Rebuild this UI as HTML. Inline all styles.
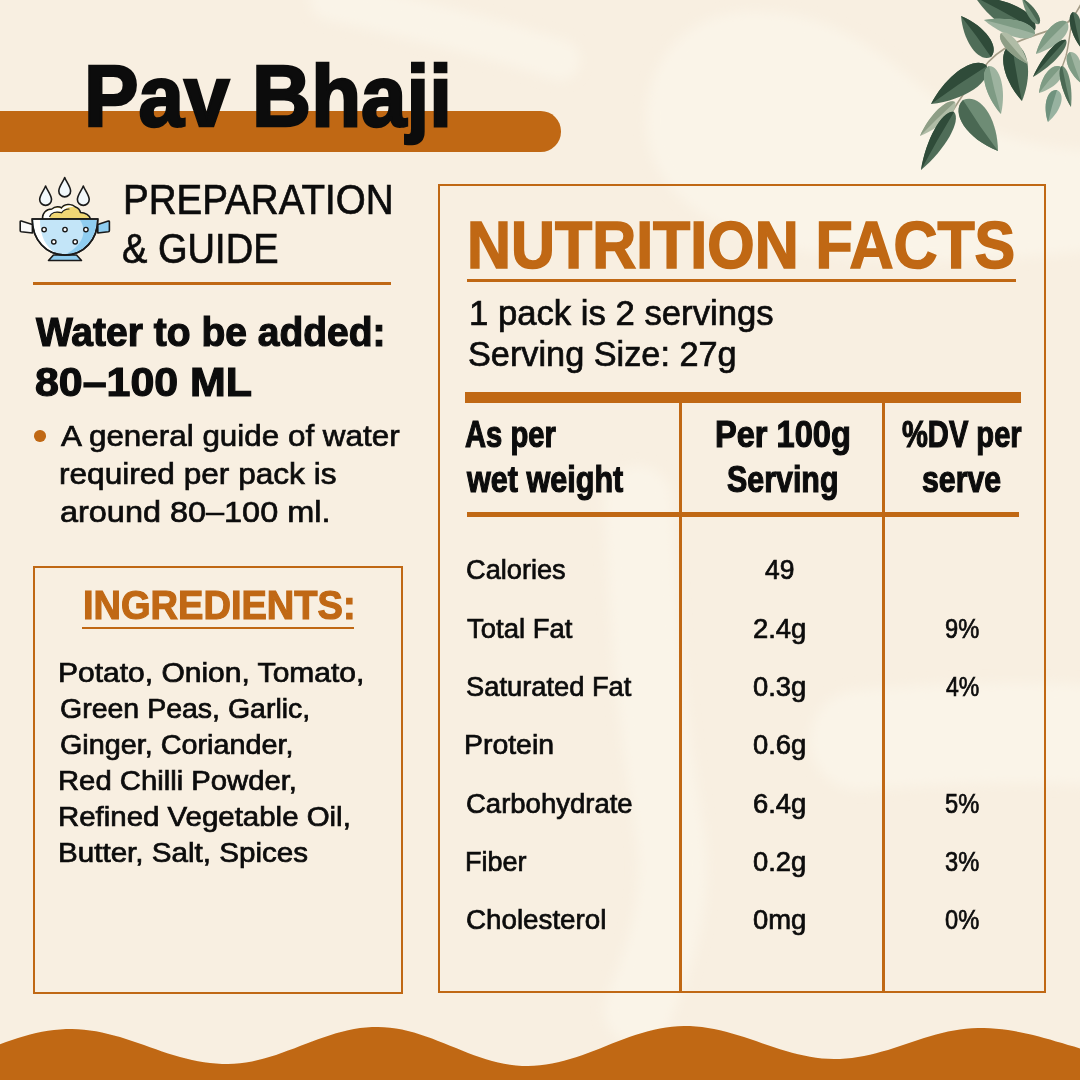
<!DOCTYPE html>
<html>
<head>
<meta charset="utf-8">
<style>
html,body{margin:0;padding:0;}
body{width:1080px;height:1080px;position:relative;overflow:hidden;background:#F8EFE1;font-family:"Liberation Sans",sans-serif;color:#0C0C0C;}
.t{position:absolute;white-space:nowrap;line-height:1;transform-origin:0 0;}
.r{position:absolute;background:#C06814;}
svg{position:absolute;left:0;top:0;}
</style>
</head>
<body>
<svg width="1080" height="1080" viewBox="0 0 1080 1080">
<defs><filter id="bl" x="-20%" y="-20%" width="140%" height="140%"><feGaussianBlur stdDeviation="6"/></filter></defs>
<g filter="url(#bl)" fill="none" stroke-linecap="round">
<path d="M648 140 C638 70 680 15 745 12 C800 10 840 25 885 58 C925 88 955 118 995 132 C1035 146 1065 150 1095 150 L1095 250 C1000 260 900 270 800 250 C720 235 660 200 648 140 Z" fill="#FAF4E8" stroke="none"/>
<path d="M638 500 C643 600 648 700 668 820 C683 900 658 960 638 1010" stroke="#FAF4E8" stroke-width="68"/>
<path d="M860 740 C920 735 1000 730 1090 735" stroke="#FAF4E8" stroke-width="100"/>
<path d="M330 0 C420 20 500 40 560 60" stroke="#FAF4E8" stroke-width="40"/>
</g>
</svg>

<div class="r" style="left:0;top:111px;width:561px;height:40.5px;border-radius:0 20.25px 20.25px 0;"></div>
<div class="r" style="left:33px;top:282px;width:358px;height:3px;"></div>
<div class="t" style="left:33px;top:566px;width:370px;height:428px;border:2px solid #C06814;box-sizing:border-box;"></div>
<div class="r" style="left:82px;top:626.5px;width:272px;height:2.5px;"></div>
<div class="t" style="left:438px;top:184px;width:608px;height:809px;border:2px solid #C06814;box-sizing:border-box;"></div>
<div class="r" style="left:467px;top:279px;width:549px;height:3px;"></div>
<div class="r" style="left:465px;top:392px;width:556px;height:11px;"></div>
<div class="r" style="left:679px;top:403px;width:3px;height:590px;"></div>
<div class="r" style="left:882px;top:403px;width:3px;height:590px;"></div>
<div class="r" style="left:467px;top:512px;width:552px;height:5px;"></div>
<div class="r" style="left:34.2px;top:430px;width:11.5px;height:11.5px;border-radius:50%;"></div>
<svg width="1080" height="1080" viewBox="0 0 1080 1080">
<g stroke="#1A1A1A" stroke-width="1.6" stroke-linejoin="round" stroke-linecap="round">
<path d="M45.6 186 C47 190 51.5 195 51.5 199.5 A5.9 5.9 0 0 1 39.7 199.5 C39.7 195 44.2 190 45.6 186 Z" fill="#F2F8FB"/>
<path d="M64.7 177.5 C66.1 181.5 70.6 186.5 70.6 191 A5.9 5.9 0 0 1 58.8 191 C58.8 186.5 63.3 181.5 64.7 177.5 Z" fill="#F2F8FB"/>
<path d="M83.3 186 C84.7 190 89.2 195 89.2 199.5 A5.9 5.9 0 0 1 77.4 199.5 C77.4 195 81.9 190 83.3 186 Z" fill="#F2F8FB"/>
<path d="M42.6 219 C42 213.5 46 209 52 209 C55 206 60 206.5 61.5 208 C63.5 204 71.5 203 75.5 207 C78.5 208 80 210.5 80.5 212.5 C85 212.5 90 215.5 90.5 219 Z" fill="#F1D774"/>
<path d="M32.4 224.5 L21.3 221 C20.6 220.8 20.2 221.3 20.2 222 L20.2 230.5 C20.2 231.2 20.6 231.7 21.3 231.8 L32.4 233 Z" fill="#FAFAFA"/>
<path d="M97.8 224.5 L108.3 221 C109 220.8 109.4 221.3 109.4 222 L109.4 230.5 C109.4 231.2 109 231.7 108.3 231.8 L97.8 233 Z" fill="#8FCDF0"/>
<path d="M53.5 255 L76.5 255 L81.5 260.5 L48.5 260.5 Z" fill="#8FCDF0"/>
<path d="M32.2 219 L97.8 219 C97.8 240 83.5 255 65 255 C46.5 255 32.2 240 32.2 219 Z" fill="#C3E5F8"/>
</g>
<path d="M80 220 L96.5 220 C96.5 238 84 253.5 66 254 C82 246 88 232 80 220 Z" fill="#8FCDF0"/>
<path d="M33.5 220 L40 220 C40 236 46 247 55 252.5 C42 249 33.5 236 33.5 220 Z" fill="#FFFFFF"/>
<path d="M43.6 218.2 C43.3 214 46.5 210 52 210 C55 207.3 60 207.6 61.6 209.2 C64 205.3 70.5 204.5 74 207.2 C69 206.5 64.5 208.5 62 212 C57 210.5 51 212.5 49.5 218.2 Z" fill="#FFFFFF"/>
<path d="M49.7 216.5 C51 212.5 56 211 61.5 212.8 C63.5 210 66 209 69 209" fill="none" stroke="#1A1A1A" stroke-width="1.2" stroke-linecap="round"/>
<path d="M32.2 219 L97.8 219 C97.8 240 83.5 255 65 255 C46.5 255 32.2 240 32.2 219 Z" fill="none" stroke="#1A1A1A" stroke-width="1.6"/>
<g fill="#FFFFFF" stroke="#1A1A1A" stroke-width="1.4">
<circle cx="44.1" cy="229.6" r="2.2"/><circle cx="65" cy="229.6" r="2.2"/><circle cx="85.9" cy="229.6" r="2.2"/>
<circle cx="53.8" cy="241.8" r="2.2"/><circle cx="75.2" cy="241.8" r="2.2"/>
</g>
</svg>

<svg width="1080" height="1080" viewBox="0 0 1080 1080">
<g>
<path d="M1081 4 C1075 16 1068 24 1060 27 C1045 32 1030 36 1015 43 C1000 50 990 58 982 70 C972 82 962 95 952 112" stroke="#A49C86" stroke-width="1.6" fill="none"/>
<path d="M1073 16 C1070 30 1069 45 1066 56 C1064 62 1062 68 1060 72" stroke="#A49C86" stroke-width="1.4" fill="none"/>
<path d="M1035.0 30.0 C1039.5 14.7 1009.8 -2.4 975.0 -3.0 C994.2 26.1 1024.5 42.0 1035.0 30.0 Z" fill="#4F6D58"/><path d="M1035.0 30.0 C1039.5 14.7 1009.8 -2.4 975.0 -3.0 Q1005.6 12.4 1035.0 30.0 Z" fill="#2F4B39"/>
<path d="M1035.0 34.0 C1035.3 22.9 1009.9 15.5 984.0 20.0 C1004.0 37.1 1029.6 43.7 1035.0 34.0 Z" fill="#9DB39F"/><path d="M1035.0 34.0 C1035.3 22.9 1009.9 15.5 984.0 20.0 Q1009.7 26.1 1035.0 34.0 Z" fill="#7E9B84"/>
<path d="M1039.0 24.0 C1043.2 19.4 1034.9 6.3 1022.0 -2.0 C1024.4 13.1 1033.1 26.0 1039.0 24.0 Z" fill="#6E8C75"/><path d="M1039.0 24.0 C1043.2 19.4 1034.9 6.3 1022.0 -2.0 Q1030.9 10.7 1039.0 24.0 Z" fill="#4A6853"/>
<path d="M991.0 57.0 C1000.2 47.2 985.6 26.3 961.0 16.0 C963.4 42.6 978.8 62.7 991.0 57.0 Z" fill="#4F6D58"/><path d="M991.0 57.0 C1000.2 47.2 985.6 26.3 961.0 16.0 Q976.9 35.9 991.0 57.0 Z" fill="#2F4B39"/>
<path d="M1012.0 44.0 C997.1 49.5 1001.5 78.2 1022.0 101.0 C1033.5 72.5 1027.9 44.2 1012.0 44.0 Z" fill="#4F6D58"/><path d="M1012.0 44.0 C997.1 49.5 1001.5 78.2 1022.0 101.0 Q1015.7 72.7 1012.0 44.0 Z" fill="#2F4B39"/>
<path d="M1001.0 33.0 C996.0 40.1 1009.3 55.8 1028.0 64.0 C1022.4 44.3 1008.7 29.0 1001.0 33.0 Z" fill="#B0BCA6"/><path d="M1001.0 33.0 C996.0 40.1 1009.3 55.8 1028.0 64.0 Q1014.0 49.0 1001.0 33.0 Z" fill="#8E9E86"/>
<path d="M987.0 66.0 C975.4 55.0 947.1 73.5 931.0 104.0 C965.3 100.3 993.0 80.8 987.0 66.0 Z" fill="#4F6D58"/><path d="M987.0 66.0 C975.4 55.0 947.1 73.5 931.0 104.0 Q958.3 83.9 987.0 66.0 Z" fill="#2F4B39"/>
<path d="M989.0 66.0 C979.1 71.0 984.7 95.1 1001.0 114.0 C1006.5 89.7 1000.1 65.8 989.0 66.0 Z" fill="#9DB39F"/><path d="M989.0 66.0 C979.1 71.0 984.7 95.1 1001.0 114.0 Q994.1 90.2 989.0 66.0 Z" fill="#7E9B84"/>
<path d="M955.0 102.0 C947.4 97.7 929.7 114.4 920.0 136.0 C941.8 127.0 959.1 109.7 955.0 102.0 Z" fill="#B0BCA6"/><path d="M955.0 102.0 C947.4 97.7 929.7 114.4 920.0 136.0 Q937.0 118.5 955.0 102.0 Z" fill="#8E9E86"/>
<path d="M954.0 112.0 C943.0 109.6 926.1 138.3 921.0 170.0 C945.6 149.5 961.7 120.2 954.0 112.0 Z" fill="#4F6D58"/><path d="M954.0 112.0 C943.0 109.6 926.1 138.3 921.0 170.0 Q936.7 140.6 954.0 112.0 Z" fill="#2F4B39"/>
<path d="M963.0 100.0 C949.9 112.7 966.8 138.7 998.0 151.0 C997.7 117.4 979.6 92.4 963.0 100.0 Z" fill="#6E8C75"/><path d="M963.0 100.0 C949.9 112.7 966.8 138.7 998.0 151.0 Q979.3 126.3 963.0 100.0 Z" fill="#4A6853"/>
<path d="M1067.0 22.0 C1057.7 16.1 1041.9 31.8 1036.0 54.0 C1058.0 47.4 1073.2 31.1 1067.0 22.0 Z" fill="#9DB39F"/><path d="M1067.0 22.0 C1057.7 16.1 1041.9 31.8 1036.0 54.0 Q1050.9 37.4 1067.0 22.0 Z" fill="#7E9B84"/>
<path d="M1066.0 40.0 C1059.0 37.1 1042.3 55.4 1033.0 77.0 C1053.4 65.3 1069.7 46.6 1066.0 40.0 Z" fill="#4F6D58"/><path d="M1066.0 40.0 C1059.0 37.1 1042.3 55.4 1033.0 77.0 Q1049.1 58.1 1066.0 40.0 Z" fill="#2F4B39"/>
<path d="M1061.0 67.0 C1052.6 62.1 1041.3 74.8 1039.0 93.0 C1056.5 87.8 1067.2 74.5 1061.0 67.0 Z" fill="#9DB39F"/><path d="M1061.0 67.0 C1052.6 62.1 1041.3 74.8 1039.0 93.0 Q1049.4 79.5 1061.0 67.0 Z" fill="#7E9B84"/>
<path d="M1057.0 90.0 C1047.3 89.0 1042.4 104.9 1048.0 122.0 C1061.7 110.3 1065.8 94.2 1057.0 90.0 Z" fill="#97B2A0"/><path d="M1057.0 90.0 C1047.3 89.0 1042.4 104.9 1048.0 122.0 Q1051.7 105.8 1057.0 90.0 Z" fill="#6F927E"/>
<path d="M1062.0 66.0 C1056.6 69.3 1060.8 89.9 1071.0 107.0 C1073.1 87.2 1068.3 66.8 1062.0 66.0 Z" fill="#6E8C75"/><path d="M1062.0 66.0 C1056.6 69.3 1060.8 89.9 1071.0 107.0 Q1066.0 86.6 1062.0 66.0 Z" fill="#4A6853"/>
<path d="M1073.0 12.0 C1066.4 15.4 1070.1 33.4 1081.0 48.0 C1084.7 30.2 1080.4 12.2 1073.0 12.0 Z" fill="#4F6D58"/><path d="M1073.0 12.0 C1066.4 15.4 1070.1 33.4 1081.0 48.0 Q1076.4 30.1 1073.0 12.0 Z" fill="#2F4B39"/>
<path d="M1070.0 52.0 C1062.6 56.4 1067.8 72.0 1081.0 83.0 C1084.3 66.1 1078.5 50.7 1070.0 52.0 Z" fill="#9DB39F"/><path d="M1070.0 52.0 C1062.6 56.4 1067.8 72.0 1081.0 83.0 Q1074.8 67.7 1070.0 52.0 Z" fill="#7E9B84"/>
</g>

<path d="M0 1080 L0 1044.2 L6 1042.1 L12 1040.0 L18 1038.1 L24 1036.2 L30 1034.6 L36 1033.1 L42 1031.8 L48 1030.8 L54 1029.9 L60 1029.4 L66 1029.1 L72 1029.0 L78 1029.2 L84 1029.7 L90 1030.4 L96 1031.3 L102 1032.5 L108 1033.9 L114 1035.4 L120 1037.1 L126 1039.0 L132 1041.0 L138 1043.0 L144 1045.1 L150 1047.2 L156 1049.3 L162 1051.4 L168 1053.4 L174 1055.2 L180 1057.0 L186 1058.6 L192 1060.1 L198 1061.3 L204 1062.3 L210 1063.1 L216 1063.6 L222 1063.9 L228 1064.0 L234 1063.7 L240 1063.2 L246 1062.4 L252 1061.4 L258 1060.0 L264 1058.5 L270 1056.8 L276 1054.9 L282 1052.8 L288 1050.6 L294 1048.4 L300 1046.1 L306 1043.8 L312 1041.5 L318 1039.3 L324 1037.2 L330 1035.2 L336 1033.3 L342 1031.7 L348 1030.3 L354 1029.1 L360 1028.1 L366 1027.5 L372 1027.1 L378 1027.0 L384 1027.2 L390 1027.7 L396 1028.5 L402 1029.6 L408 1031.0 L414 1032.6 L420 1034.4 L426 1036.4 L432 1038.6 L438 1040.9 L444 1043.2 L450 1045.7 L456 1048.1 L462 1050.6 L468 1052.9 L474 1055.2 L480 1057.3 L486 1059.2 L492 1061.0 L498 1062.5 L504 1063.8 L510 1064.8 L516 1065.5 L522 1065.9 L528 1066.0 L534 1065.8 L540 1065.3 L546 1064.6 L552 1063.6 L558 1062.3 L564 1060.8 L570 1059.1 L576 1057.2 L582 1055.2 L588 1053.0 L594 1050.7 L600 1048.4 L606 1046.0 L612 1043.6 L618 1041.3 L624 1039.0 L630 1036.8 L636 1034.8 L642 1032.9 L648 1031.2 L654 1029.7 L660 1028.4 L666 1027.4 L672 1026.7 L678 1026.2 L684 1026.0 L690 1026.1 L696 1026.4 L702 1027.0 L708 1027.9 L714 1029.0 L720 1030.2 L726 1031.7 L732 1033.4 L738 1035.2 L744 1037.1 L750 1039.1 L756 1041.1 L762 1043.2 L768 1045.3 L774 1047.3 L780 1049.2 L786 1051.0 L792 1052.7 L798 1054.3 L804 1055.6 L810 1056.8 L816 1057.7 L822 1058.4 L828 1058.8 L834 1059.0 L840 1058.9 L846 1058.6 L852 1058.0 L858 1057.1 L864 1056.0 L870 1054.8 L876 1053.3 L882 1051.6 L888 1049.9 L894 1048.0 L900 1046.0 L906 1044.0 L912 1042.0 L918 1040.0 L924 1038.1 L930 1036.2 L936 1034.5 L942 1033.0 L948 1031.6 L954 1030.4 L960 1029.4 L966 1028.7 L972 1028.2 L978 1028.0 L984 1028.0 L990 1028.3 L996 1028.7 L1002 1029.3 L1008 1030.1 L1014 1031.1 L1020 1032.2 L1026 1033.4 L1032 1034.8 L1038 1036.3 L1044 1037.9 L1050 1039.6 L1056 1041.4 L1062 1043.1 L1068 1044.9 L1074 1046.6 L1080 1048.4 L1080 1080 Z" fill="#C06814"/>
</svg>
<div class="t" style="left:83.50px;top:52.70px;font-size:86.34px;font-weight:bold;transform:scaleX(0.9467);-webkit-text-stroke:2.60px #0C0C0C;">Pav Bhaji</div>
<div class="t" style="left:122.60px;top:177.65px;font-size:42.59px;transform:scaleX(0.9053);-webkit-text-stroke:0.70px #0C0C0C;">PREPARATION</div>
<div class="t" style="left:122.42px;top:227.15px;font-size:42.59px;transform:scaleX(0.8940);-webkit-text-stroke:0.70px #0C0C0C;">&amp; GUIDE</div>
<div class="t" style="left:36.27px;top:311.70px;font-size:40.84px;font-weight:bold;transform:scaleX(0.9553);-webkit-text-stroke:1.20px #0C0C0C;">Water to be added:</div>
<div class="t" style="left:35.28px;top:362.20px;font-size:40.84px;font-weight:bold;transform:scaleX(1.0511);-webkit-text-stroke:1.20px #0C0C0C;">80–100 ML</div>
<div class="t" style="left:61.36px;top:421.25px;font-size:30.23px;transform:scaleX(1.0389);-webkit-text-stroke:0.70px #0C0C0C;">A general guide of water</div>
<div class="t" style="left:59.27px;top:458.95px;font-size:30.23px;transform:scaleX(1.0455);-webkit-text-stroke:0.70px #0C0C0C;">required per pack is</div>
<div class="t" style="left:60.30px;top:497.05px;font-size:30.23px;transform:scaleX(1.0730);-webkit-text-stroke:0.70px #0C0C0C;">around 80–100 ml.</div>
<div class="t" style="left:82.68px;top:585.40px;font-size:40.41px;font-weight:bold;color:#C06814;transform:scaleX(0.9413);-webkit-text-stroke:1.20px #C06814;">INGREDIENTS:</div>
<div class="t" style="left:58.36px;top:660.05px;font-size:26.89px;transform:scaleX(1.1165);-webkit-text-stroke:0.70px #0C0C0C;">Potato, Onion, Tomato,</div>
<div class="t" style="left:59.51px;top:696.00px;font-size:26.89px;transform:scaleX(1.0605);-webkit-text-stroke:0.70px #0C0C0C;">Green Peas, Garlic,</div>
<div class="t" style="left:59.50px;top:731.95px;font-size:26.89px;transform:scaleX(1.0701);-webkit-text-stroke:0.70px #0C0C0C;">Ginger, Coriander,</div>
<div class="t" style="left:58.40px;top:767.90px;font-size:26.89px;transform:scaleX(1.0880);-webkit-text-stroke:0.70px #0C0C0C;">Red Chilli Powder,</div>
<div class="t" style="left:58.39px;top:803.85px;font-size:26.89px;transform:scaleX(1.0949);-webkit-text-stroke:0.70px #0C0C0C;">Refined Vegetable Oil,</div>
<div class="t" style="left:58.38px;top:839.80px;font-size:26.89px;transform:scaleX(1.1011);-webkit-text-stroke:0.70px #0C0C0C;">Butter, Salt, Spices</div>
<div class="t" style="left:467.05px;top:211.50px;font-size:65.99px;font-weight:bold;color:#C06814;transform:scaleX(0.9232);-webkit-text-stroke:1.60px #C06814;">NUTRITION FACTS</div>
<div class="t" style="left:469.34px;top:296.25px;font-size:34.59px;transform:scaleX(1.0031);-webkit-text-stroke:0.70px #0C0C0C;">1 pack is 2 servings</div>
<div class="t" style="left:468.46px;top:337.15px;font-size:34.59px;transform:scaleX(0.9911);-webkit-text-stroke:0.70px #0C0C0C;">Serving Size: 27g</div>
<div class="t" style="left:465.46px;top:415.90px;font-size:37.79px;font-weight:bold;transform:scaleX(0.7726);-webkit-text-stroke:1.20px #0C0C0C;">As per</div>
<div class="t" style="left:467.09px;top:460.90px;font-size:37.79px;font-weight:bold;transform:scaleX(0.8093);-webkit-text-stroke:1.20px #0C0C0C;">wet weight</div>
<div class="t" style="left:714.59px;top:415.90px;font-size:37.79px;font-weight:bold;transform:scaleX(0.8626);-webkit-text-stroke:1.20px #0C0C0C;">Per 100g</div>
<div class="t" style="left:727.18px;top:460.90px;font-size:37.79px;font-weight:bold;transform:scaleX(0.8047);-webkit-text-stroke:1.20px #0C0C0C;">Serving</div>
<div class="t" style="left:901.56px;top:415.80px;font-size:37.79px;font-weight:bold;transform:scaleX(0.7701);-webkit-text-stroke:1.20px #0C0C0C;">%DV per</div>
<div class="t" style="left:921.58px;top:460.90px;font-size:37.79px;font-weight:bold;transform:scaleX(0.8015);-webkit-text-stroke:1.20px #0C0C0C;">serve</div>
<div class="t" style="left:465.55px;top:556.45px;font-size:27.18px;transform:scaleX(1.0002);-webkit-text-stroke:0.70px #0C0C0C;">Calories</div>
<div class="t" style="left:764.84px;top:556.45px;font-size:27.18px;transform:scaleX(0.9728);-webkit-text-stroke:0.70px #0C0C0C;">49</div>
<div class="t" style="left:466.55px;top:614.75px;font-size:27.18px;transform:scaleX(1.0109);-webkit-text-stroke:0.70px #0C0C0C;">Total Fat</div>
<div class="t" style="left:753.04px;top:614.75px;font-size:27.18px;transform:scaleX(1.0083);-webkit-text-stroke:0.70px #0C0C0C;">2.4g</div>
<div class="t" style="left:945.03px;top:614.75px;font-size:27.18px;transform:scaleX(0.8709);-webkit-text-stroke:0.70px #0C0C0C;">9%</div>
<div class="t" style="left:465.55px;top:673.05px;font-size:27.18px;transform:scaleX(1.0043);-webkit-text-stroke:0.70px #0C0C0C;">Saturated Fat</div>
<div class="t" style="left:753.04px;top:673.05px;font-size:27.18px;transform:scaleX(1.0083);-webkit-text-stroke:0.70px #0C0C0C;">0.3g</div>
<div class="t" style="left:945.90px;top:673.05px;font-size:27.18px;transform:scaleX(0.8490);-webkit-text-stroke:0.70px #0C0C0C;">4%</div>
<div class="t" style="left:464.47px;top:731.35px;font-size:27.18px;transform:scaleX(1.0456);-webkit-text-stroke:0.70px #0C0C0C;">Protein</div>
<div class="t" style="left:753.04px;top:731.35px;font-size:27.18px;transform:scaleX(1.0083);-webkit-text-stroke:0.70px #0C0C0C;">0.6g</div>
<div class="t" style="left:465.54px;top:789.65px;font-size:27.18px;transform:scaleX(1.0121);-webkit-text-stroke:0.70px #0C0C0C;">Carbohydrate</div>
<div class="t" style="left:753.04px;top:789.65px;font-size:27.18px;transform:scaleX(1.0083);-webkit-text-stroke:0.70px #0C0C0C;">6.4g</div>
<div class="t" style="left:945.03px;top:789.65px;font-size:27.18px;transform:scaleX(0.8709);-webkit-text-stroke:0.70px #0C0C0C;">5%</div>
<div class="t" style="left:464.56px;top:847.95px;font-size:27.18px;transform:scaleX(0.9941);-webkit-text-stroke:0.70px #0C0C0C;">Fiber</div>
<div class="t" style="left:753.04px;top:847.95px;font-size:27.18px;transform:scaleX(1.0083);-webkit-text-stroke:0.70px #0C0C0C;">0.2g</div>
<div class="t" style="left:945.03px;top:847.95px;font-size:27.18px;transform:scaleX(0.8709);-webkit-text-stroke:0.70px #0C0C0C;">3%</div>
<div class="t" style="left:465.54px;top:906.25px;font-size:27.18px;transform:scaleX(1.0213);-webkit-text-stroke:0.70px #0C0C0C;">Cholesterol</div>
<div class="t" style="left:753.04px;top:906.25px;font-size:27.18px;transform:scaleX(1.0088);-webkit-text-stroke:0.70px #0C0C0C;">0mg</div>
<div class="t" style="left:945.03px;top:906.25px;font-size:27.18px;transform:scaleX(0.8709);-webkit-text-stroke:0.70px #0C0C0C;">0%</div>
</body>
</html>
